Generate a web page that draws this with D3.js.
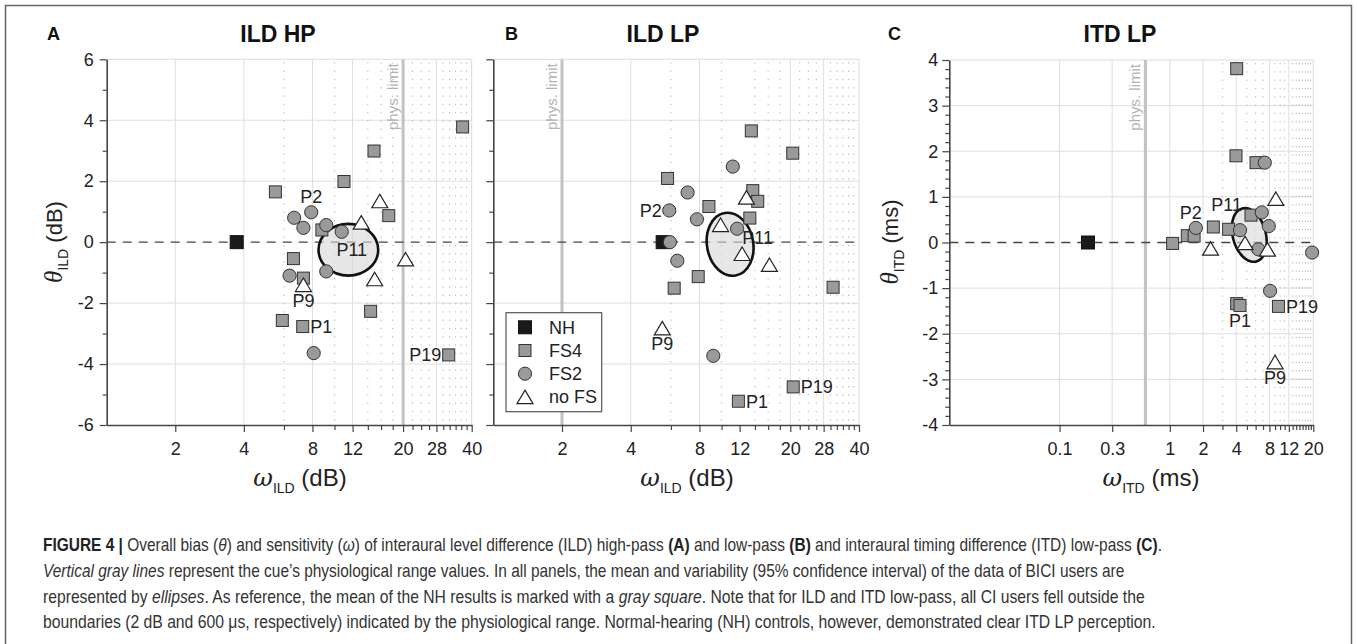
<!DOCTYPE html>
<html><head><meta charset="utf-8">
<script src="https://cdn.jsdelivr.net/npm/d3@7"></script>
<style>
body{margin:0;background:#fff}
svg{display:block}
text{font-family:"Liberation Sans",Arial,Helvetica,sans-serif}
</style>
</head><body>
<svg id="chart" width="1357" height="644"></svg>
<script>
// ---------------- DATA ----------------
// Panel A: ILD HP  [omega (dB), theta (dB)]
const ildHP_NH   = [[3.72, 0]];
const ildHP_FS4  = [[5.5,1.65],[11.0,1.99],[14.9,2.99],[36.5,3.78],[17.3,0.87],[8.8,0.40],[6.6,-0.54],[7.3,-1.18],[14.4,-2.27],[5.9,-2.57],[7.25,-2.77],[31.7,-3.70]];
const ildHP_FS2  = [[7.9,0.98],[6.65,0.80],[7.3,0.47],[9.2,0.56],[10.75,0.34],[6.35,-1.1],[9.2,-0.96],[8.1,-3.64]];
const ildHP_noFS = [[15.8,1.35],[13.1,0.65],[20.5,-0.56],[15.0,-1.21],[7.3,-1.4]];
const ildHP_ellipse = [11.5, -0.25, 1.352, 0.85];   // centre x, centre y, x-factor, y-radius
const ildHP_labels = [["P2",7.9,0.98,"above"],["P11",11.9,-0.25,"center"],["P9",7.3,-1.4,"below"],["P1",7.25,-2.77,"right"],["P19",31.7,-3.70,"left"]];

// Panel B: ILD LP
const ildLP_NH   = [[5.52, 0]];
const ildLP_FS4  = [[13.5,3.65],[20.5,2.92],[5.8,2.09],[13.7,1.69],[14.4,1.34],[8.8,1.17],[13.3,0.79],[7.9,-1.13],[6.2,-1.51],[30.8,-1.48],[11.85,-5.22],[20.6,-4.75]];
const ildLP_FS2  = [[11.2,2.48],[7.1,1.63],[5.9,1.04],[7.8,0.75],[11.7,0.44],[5.94,0],[6.4,-0.61],[9.2,-3.73]];
const ildLP_noFS = [[12.85,1.47],[9.9,0.57],[12.3,-0.38],[16.2,-0.74],[5.5,-2.82]];
const ildLP_ellipse = [10.9, -0.07, 1.263, 1.04];
const ildLP_labels = [["P2",5.9,1.04,"left"],["P11",14.4,0.14,"center"],["P9",5.5,-2.82,"below"],["P1",11.85,-5.22,"right"],["P19",20.6,-4.75,"right"]];

// Panel C: ITD LP  [omega (ms), theta (ms)]
const itdLP_NH   = [[0.181, 0]];
const itdLP_FS4  = [[4.04,3.81],[3.98,1.90],[6.05,1.75],[1.06,-0.02],[1.44,0.15],[1.66,0.14],[2.48,0.34],[3.41,0.29],[5.45,0.60],[4.04,-1.34],[4.33,-1.38],[9.66,-1.40]];
const itdLP_FS2  = [[7.26,1.75],[6.82,0.66],[7.89,0.36],[1.72,0.32],[4.33,0.27],[6.35,-0.15],[8.11,-1.06],[19.5,-0.22]];
const itdLP_noFS = [[9.14,0.96],[2.34,-0.13],[4.81,-0.01],[7.67,-0.15],[9.0,-2.62]];
const itdLP_ellipse = [5.25, 0.165, 1.413, 0.6];
const itdLP_labels = [["P2",1.55,0.66,"center"],["P11",3.28,0.84,"center"],["P1",4.33,-1.38,"below"],["P19",9.66,-1.40,"right"],["P9",9.0,-2.62,"below"]];

// Ticks
const ildXTicks = [2,4,8,12,20,28,40];
const ildXMinor = [6,10,14,16,18,22,24,26,30,32,34,36,38];
const ildYTicks = [-6,-4,-2,0,2,4,6];
const ildYMinor = [-5,-3,-1,1,3,5];
const itdXTicks = [0.1,0.3,1,2,4,8,12,20];
const itdXMinor = [3,5,6,7,9,10,11,13,14,15,16,17,18,19];
const itdYTicks = [-4,-3,-2,-1,0,1,2,3,4];
const itdYMinor = [-3.8,-3.6,-3.4,-3.2,-2.8,-2.6,-2.4,-2.2,-1.8,-1.6,-1.4,-1.2,-0.8,-0.6,-0.4,-0.2,0.2,0.4,0.6,0.8,1.2,1.4,1.6,1.8,2.2,2.4,2.6,2.8,3.2,3.4,3.6,3.8];

const physLimits = [20, 2, 0.6];
const legendItems = ["NH","FS4","FS2","no FS"];

const captionLines = [
  [["b","FIGURE 4 | "],["n","Overall bias ("],["i","θ"],["n",") and sensitivity ("],["i","ω"],["n",") of interaural level difference (ILD) high-pass "],["b","(A)"],["n"," and low-pass "],["b","(B)"],["n"," and interaural timing difference (ITD) low-pass "],["b","(C)"],["n","."]],
  [["i","Vertical gray lines"],["n"," represent the cue’s physiological range values. In all panels, the mean and variability (95% confidence interval) of the data of BICI users are"]],
  [["n","represented by "],["i","ellipses"],["n",". As reference, the mean of the NH results is marked with a "],["i","gray square"],["n",". Note that for ILD and ITD low-pass, all CI users fell outside the"]],
  [["n","boundaries (2 dB and 600 μs, respectively) indicated by the physiological range. Normal-hearing (NH) controls, however, demonstrated clear ITD LP perception."]]
];

// ---------------- DRAW ----------------
const svg = d3.select("#chart");
svg.append("path").attr("d","M5.5,644 V5.5 H1351.5 V644").attr("fill","none").attr("stroke","#666").attr("stroke-width",1.5);

const panels = [
  {letter:"A", title:"ILD HP", letterX:47, titleX:278,
   x:d3.scaleLog().domain([1,40]).range([106.7,471.7]), y:d3.scaleLinear().domain([-6,6]).range([425,59.3]),
   xt:ildXTicks, xm:ildXMinor, yt:ildYTicks, ym:ildYMinor, solidX:[2,4,8,12,20,28], hgrid:[-4,-2,2,4],
   yLabels:true, yTitleX:62, sub:"ILD", unit:"(dB)", xTitleX:300, phys:physLimits[0], physTextX:-5,
   NH:ildHP_NH, FS4:ildHP_FS4, FS2:ildHP_FS2, noFS:ildHP_noFS, ell:ildHP_ellipse, rot:0, labels:ildHP_labels},
  {letter:"B", title:"ILD LP", letterX:505, titleX:663,
   x:d3.scaleLog().domain([1,40]).range([493.3,859]), y:d3.scaleLinear().domain([-6,6]).range([425,59.3]),
   xt:ildXTicks, xm:ildXMinor, yt:ildYTicks, ym:ildYMinor, solidX:[2,4,8,20,28], hgrid:[-4,-2,2,4],
   yLabels:false, sub:"ILD", unit:"(dB)", xTitleX:687, phys:physLimits[1], physTextX:-5,
   NH:ildLP_NH, FS4:ildLP_FS4, FS2:ildLP_FS2, noFS:ildLP_noFS, ell:ildLP_ellipse, rot:-10, labels:ildLP_labels, legend:true},
  {letter:"C", title:"ITD LP", letterX:888, titleX:1120,
   x:d3.scaleLog().domain([0.01,20]).range([949.3,1313.3]), y:d3.scaleLinear().domain([-4,4]).range([425,60]),
   xt:itdXTicks, xm:itdXMinor, yt:itdYTicks, ym:itdYMinor, solidX:[0.1,0.3,1,2,4,8,12], hgrid:[-3,-2,-1,1,2,3],
   yLabels:true, yTitleX:898, sub:"ITD", unit:"(ms)", xTitleX:1151, phys:physLimits[2], physTextX:-5,
   NH:itdLP_NH, FS4:itdLP_FS4, FS2:itdLP_FS2, noFS:itdLP_noFS, ell:itdLP_ellipse, rot:-15, labels:itdLP_labels}
];

function triPath(w,h){ return `M0,${-h/2} L${w/2},${h/2} L${-w/2},${h/2} Z`; }

function drawMarker(g, type, px, py){
  if(type==="NH"){
    g.append("rect").attr("x",px-6.5).attr("y",py-6.5).attr("width",13).attr("height",13).attr("fill","#1a1a1a").attr("stroke","#111").attr("stroke-width",1);
  } else if(type==="FS4"){
    g.append("rect").attr("x",px-6).attr("y",py-6).attr("width",12).attr("height",12).attr("fill","#9a9a9a").attr("stroke","#333").attr("stroke-width",1);
  } else if(type==="FS2"){
    g.append("circle").attr("cx",px).attr("cy",py).attr("r",6.6).attr("fill","#9a9a9a").attr("stroke","#333").attr("stroke-width",1);
  } else {
    g.append("path").attr("d",triPath(16,13.5)).attr("transform",`translate(${px},${py})`).attr("fill","#fff").attr("stroke","#222").attr("stroke-width",1.2);
  }
}

panels.forEach(p=>{
  const g = svg.append("g");
  const [x0,x1] = p.x.range(); const [yb,yt] = p.y.range();
  g.append("path").attr("d",`M${x0},${yt} H${x1} V${yb}`).attr("fill","none").attr("stroke","#dcdcdc").attr("stroke-width",1);
  g.selectAll(".hg").data(p.hgrid).join("line").attr("x1",x0).attr("x2",x1).attr("y1",d=>p.y(d)).attr("y2",d=>p.y(d)).attr("stroke","#dedede").attr("stroke-width",1);
  g.selectAll(".vg").data(p.solidX).join("line").attr("x1",d=>p.x(d)).attr("x2",d=>p.x(d)).attr("y1",yt).attr("y2",yb).attr("stroke","#dedede").attr("stroke-width",1);
  g.selectAll(".vd").data(p.xm).join("line").attr("x1",d=>p.x(d)).attr("x2",d=>p.x(d)).attr("y1",yt+3).attr("y2",yb).attr("stroke","#b5b5b5").attr("stroke-width",1).attr("stroke-dasharray","1.3,7");
  const phx = p.x(p.phys);
  g.append("line").attr("x1",phx).attr("x2",phx).attr("y1",yt).attr("y2",yb).attr("stroke","#c2c2c2").attr("stroke-width",3);
  g.append("text").attr("transform",`translate(${phx+p.physTextX},${yt+4}) rotate(-90)`).attr("text-anchor","end")
    .attr("font-size",15).attr("fill","#b3b3b3").text("phys. limit");
  g.append("line").attr("x1",x0).attr("x2",x1).attr("y1",p.y(0)).attr("y2",p.y(0)).attr("stroke","#444").attr("stroke-width",1.3).attr("stroke-dasharray","9,7");

  const [ecx,ecy,efx,ery] = p.ell;
  const cx = p.x(ecx), cy = p.y(ecy);
  const rx = p.x(ecx*efx)-cx, ry = p.y(ecy-ery)-cy;
  g.append("ellipse").attr("cx",cx).attr("cy",cy).attr("rx",rx).attr("ry",ry)
    .attr("transform",`rotate(${p.rot},${cx},${cy})`)
    .attr("fill","rgba(215,215,215,0.6)").attr("stroke","#111").attr("stroke-width",2.6);

  const xAxis = d3.axisBottom(p.x).tickValues(p.xt).tickFormat(d=>String(d)).tickSize(7).tickSizeOuter(0).tickPadding(10);
  const xa = g.append("g").attr("transform",`translate(0,${yb})`).call(xAxis);
  const xMinorAxis = d3.axisBottom(p.x).tickValues(p.xm).tickFormat("").tickSize(5).tickSizeOuter(0);
  const xma = g.append("g").attr("transform",`translate(0,${yb})`).call(xMinorAxis);
  xma.select(".domain").remove();
  const yAxis = d3.axisLeft(p.y).tickValues(p.yt).tickFormat(p.yLabels ? d=>String(d) : "").tickSize(7).tickSizeOuter(0).tickPadding(p.letter==="C"?4:6);
  const ya = g.append("g").attr("transform",`translate(${x0},0)`).call(yAxis);
  const yMinorAxis = d3.axisLeft(p.y).tickValues(p.ym).tickFormat("").tickSize(4).tickSizeOuter(0);
  const yma = g.append("g").attr("transform",`translate(${x0},0)`).call(yMinorAxis);
  yma.select(".domain").remove();
  [xa,xma,ya,yma].forEach(a=>{
    a.selectAll("line").attr("stroke","#444").attr("stroke-width",1.2);
    a.select(".domain").attr("stroke","#444").attr("stroke-width",1.6);
    a.selectAll("text").attr("font-size",18).attr("fill","#222").attr("font-family",'"Liberation Sans",Arial,sans-serif');
  });
  if(!p.yLabels){ ya.selectAll("text").remove(); }
  [xma,yma].forEach(a=>a.selectAll("text").remove());

  const lg = g.append("g");
  p.labels.forEach(([t,lx,ly,pos])=>{
    const px = p.x(lx), py = p.y(ly);
    let tx=px, ty=py+6.5, anc="middle";
    if(pos==="above"){ty=py-9;}
    else if(pos==="below"){ty=py+22;}
    else if(pos==="right"){tx=px+7.5; anc="start";}
    else if(pos==="left"){tx=px-7.5; anc="end";}
    lg.append("text").attr("x",tx).attr("y",ty).attr("text-anchor",anc).attr("font-size",18).attr("fill","#222").text(t);
  });

  const mg = g.append("g");
  p.NH.forEach(d=>drawMarker(mg,"NH",p.x(d[0]),p.y(d[1])));
  p.FS4.forEach(d=>drawMarker(mg,"FS4",p.x(d[0]),p.y(d[1])));
  p.FS2.forEach(d=>drawMarker(mg,"FS2",p.x(d[0]),p.y(d[1])));
  p.noFS.forEach(d=>drawMarker(mg,"noFS",p.x(d[0]),p.y(d[1])));

  g.append("text").attr("x",p.letterX).attr("y",40).attr("font-size",18).attr("font-weight","bold").attr("fill","#111").text(p.letter);
  g.append("text").attr("x",p.titleX).attr("y",42).attr("text-anchor","middle").attr("font-size",23).attr("font-weight","bold").attr("fill","#111").text(p.title);

  const xt = g.append("text").attr("x",p.xTitleX).attr("y",486).attr("text-anchor","middle").attr("font-size",24).attr("fill","#222");
  xt.append("tspan").attr("font-style","italic").attr("font-family",'"DejaVu Serif","Liberation Serif",serif').text("ω");
  xt.append("tspan").attr("font-size",14).attr("dy",7).text(p.sub);
  xt.append("tspan").attr("dy",-7).text(" "+p.unit);

  if(p.yLabels){
    const yTitle = g.append("text").attr("transform",`translate(${p.yTitleX},242) rotate(-90)`).attr("text-anchor","middle").attr("font-size",22).attr("fill","#222");
    yTitle.append("tspan").attr("font-style","italic").attr("font-family",'"Liberation Serif","DejaVu Serif",serif').attr("font-size",25).text("θ");
    yTitle.append("tspan").attr("font-size",14).attr("dy",6).text(p.sub);
    yTitle.append("tspan").attr("dy",-6).text(" "+p.unit);
  }

  if(p.legend){
    const lgd = g.append("g");
    lgd.append("rect").attr("x",506).attr("y",312.7).attr("width",95.7).attr("height",99).attr("fill","#fff").attr("stroke","#555").attr("stroke-width",1.2);
    const types=["NH","FS4","FS2","noFS"];
    legendItems.forEach((name,i)=>{
      const ly = 327.3 + i*23.2;
      drawMarker(lgd, types[i], 525, ly);
      lgd.append("text").attr("x",549).attr("y",ly+6.5).attr("font-size",18).attr("fill","#222").text(name);
    });
  }
});

// caption: runs laid out at natural widths inside a horizontally scaled group
const capEnds = [1162, 1125, 1145, 1157];
const capY = [551, 577.5, 603, 628.5];
const capFont = '"Liberation Sans Narrow","DejaVu Sans Condensed","Liberation Sans",Arial,sans-serif';
captionLines.forEach((line,i)=>{
  const lineG = svg.append("g");
  let cx = 0;
  line.forEach(([s,txt])=>{
    const el = lineG.append("text").attr("x",cx).attr("y",capY[i]).attr("font-size",17.5)
      .attr("font-family",capFont).attr("fill", s==="b" ? "#222" : "#333").style("white-space","pre").text(txt);
    if(s==="b") el.attr("font-weight","bold");
    if(s==="i") el.attr("font-style","italic");
    cx += el.node().getComputedTextLength();
  });
  const k = (capEnds[i]-43)/cx;
  lineG.attr("transform",`translate(43,0) scale(${k},1)`);
});
</script>
</body></html>
